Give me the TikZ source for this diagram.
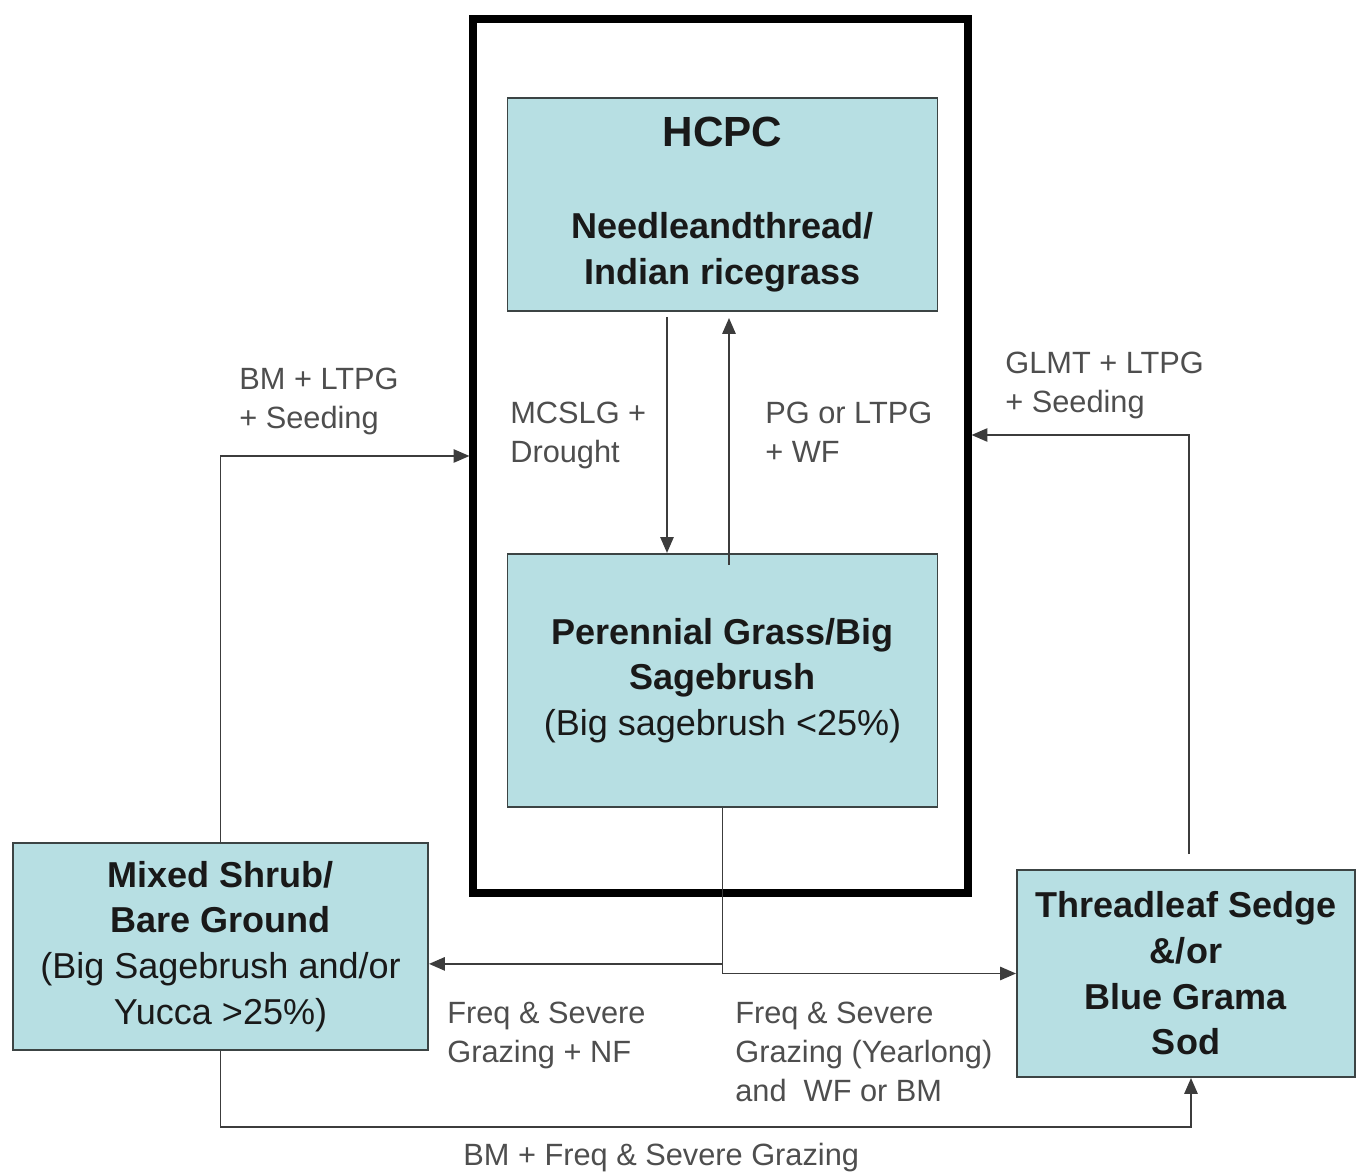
\documentclass[tikz,border=0pt]{standalone}
\usepackage{fontspec}
\setmainfont{Liberation Sans}
\usetikzlibrary{shapes,arrows.meta,positioning}

\definecolor{boxfill}{RGB}{183,223,227}
\definecolor{boxline}{RGB}{60,68,68}
\definecolor{linegray}{RGB}{60,60,60}
\definecolor{labelgray}{RGB}{78,78,78}

\tikzset{
    state/.style={rectangle, draw=boxline, line width=1.1pt, fill=boxfill, align=center,
        text=black!90, font=\fontsize{20.5}{26}\selectfont, inner sep=2pt},
    conn/.style={draw=linegray, line width=1.1pt, -{Triangle[length=9pt,width=7.5pt]}},
    plain/.style={draw=linegray, line width=1.1pt},
    lbl/.style={anchor=north west, inner sep=0pt, align=left, text=labelgray,
        font=\fontsize{17.5}{22}\selectfont}
}

\begin{document}
\begin{tikzpicture}

    \useasboundingbox (0,0) rectangle (27.24,-23.48);

    %-----States-----
    % Reference community frame
    \node [rectangle, draw=black, line width=4pt, minimum width=9.9cm, minimum height=17.48cm] (frame) at (14.41,-9.12) {};

    % HCPC State
    \node [state, minimum width=8.6cm, minimum height=4.26cm] (hcpc) at (14.45,-4.09) {%
        {\fontsize{24}{28}\selectfont\textbf{HCPC}} \\[26.7pt]
        \textbf{Needleandthread/} \\
        \textbf{Indian ricegrass}
    };

    % Perennial Grass State
    \node [state, minimum width=8.6cm, minimum height=5.06cm, below=4.82cm of hcpc] (pg) {%
        \textbf{Perennial Grass/Big} \\
        \textbf{Sagebrush} \\
        (Big sagebrush <25\%)
    };

    % Mixed Shrub State
    \node [state, minimum width=8.3cm, minimum height=4.14cm] (mix) at (4.41,-18.93) {%
        \textbf{Mixed Shrub/} \\
        \textbf{Bare Ground} \\
        (Big Sagebrush and/or \\
        Yucca >25\%)
    };

    % Threadleaf Sedge State
    \node [state, minimum width=6.76cm, minimum height=4.14cm] (sod) at (23.72,-19.47) {%
        \textbf{Threadleaf Sedge} \\
        \textbf{\&/or} \\
        \textbf{Blue Grama} \\
        \textbf{Sod}
    };

    %-----Transitions-----
    \draw [conn] ([xshift=-1.11cm,yshift=-0.1cm]hcpc.south) -- ([xshift=-1.11cm]pg.north);
    \draw [conn] ([xshift=0.13cm,yshift=-0.24cm]pg.north) -- ([xshift=0.13cm,yshift=-0.12cm]hcpc.south);

    \draw [conn] (mix.north) |- (frame.west);
    \draw [conn] ([xshift=0.06cm,yshift=0.3cm]sod.north) |- ([yshift=0.42cm]frame.east);

    \coordinate (split) at ([yshift=-3.12cm]pg.south);
    \draw [conn] (pg.south) |- (mix.east |- split);
    \draw [conn] (split) |- (sod.west);

    \draw [conn] (mix.south) -- ++(0,-1.52) -| ([xshift=0.1cm]sod.south);

    %-----Labels-----
    \node [lbl] (bmltpg) at (4.78,-7.36) {BM + LTPG \\ + Seeding};
    \node [lbl] (glmt) at (20.10,-7.04) {GLMT + LTPG \\ + Seeding};
    \node [lbl] (mcslg) at (10.20,-8.04) {MCSLG + \\ Drought};
    \node [lbl] (pgltpg) at (15.30,-8.04) {PG or LTPG \\ + WF};
    \node [lbl] (freqnf) at (8.94,-20.04) {Freq \& Severe \\ Grazing + NF};
    \node [lbl] (freqyl) at (14.70,-20.04) {Freq \& Severe \\ Grazing (Yearlong) \\ and\ \ WF or BM};
    \node [lbl] (bmfreq) at (9.26,-22.86) {BM + Freq \& Severe Grazing};

\end{tikzpicture}
\end{document}
